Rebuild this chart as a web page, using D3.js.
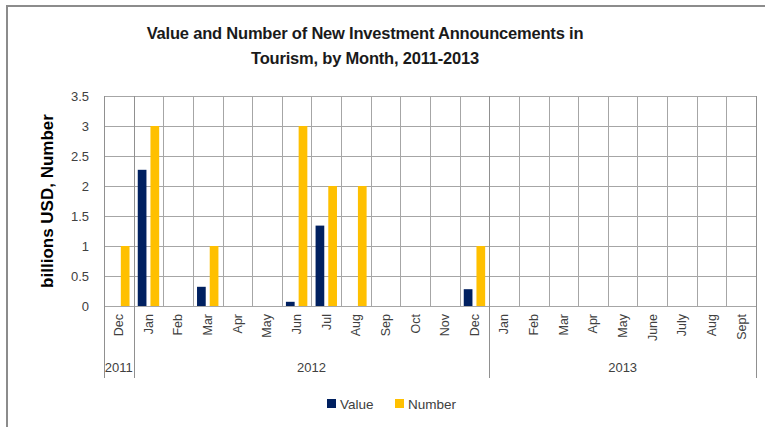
<!DOCTYPE html>
<html>
<head>
<meta charset="utf-8">
<script src="https://cdn.jsdelivr.net/npm/d3@7"></script>
<style>
  html, body { margin: 0; padding: 0; background: #fff; }
  svg { display: block; font-family: "Liberation Sans", Arial, sans-serif; }
</style>
</head>
<body>
<svg id="chart" width="765" height="427"></svg>
<script>
// Months on the category axis, with the year each belongs to
const months = ["Dec", "Jan", "Feb", "Mar", "Apr", "May", "Jun", "Jul", "Aug", "Sep", "Oct", "Nov", "Dec",
                "Jan", "Feb", "Mar", "Apr", "May", "June", "July", "Aug", "Sept"];
const years = ["2011", "2012", "2013"];
const yearSpans = [1, 12, 9];   // number of months under each year label

// Value of announcements (billions USD) and number of announcements
const valueSeries  = [0, 2.27, 0, 0.32, 0, 0, 0.07, 1.34, 0, 0, 0, 0, 0.28, 0, 0, 0, 0, 0, 0, 0, 0, 0];
const numberSeries = [1, 3, 0, 1, 0, 0, 3, 2, 2, 0, 0, 0, 1, 0, 0, 0, 0, 0, 0, 0, 0, 0];

const seriesNames = ["Value", "Number"];
const seriesColors = ["#002060", "#FFC000"];
const yTicks = [0, 0.5, 1, 1.5, 2, 2.5, 3, 3.5];

const svg = d3.select("#chart");
const plot = { left: 104, right: 756, top: 96, bottom: 306 };
const axisBottom = 378;
const gridColor = "#a6a6a6";
const textColor = "#404040";

// Outer frame
svg.append("rect")
  .attr("x", 7).attr("y", 6).attr("width", 800).attr("height", 460)
  .attr("fill", "none").attr("stroke", "#8c8c8c").attr("stroke-width", 2);

const idx = d3.range(months.length);
const x = d3.scaleBand().domain(idx).range([plot.left, plot.right]).padding(0);
const xs = d3.scaleBand().domain(seriesNames).range([0, x.bandwidth()])
  .paddingInner(0.315).paddingOuter(0.324);
const y = d3.scaleLinear().domain([0, 3.5]).range([plot.bottom, plot.top]);

// Horizontal gridlines
svg.append("g").selectAll("line").data(yTicks).join("line")
  .attr("x1", plot.left).attr("x2", plot.right)
  .attr("y1", d => Math.round(y(d)) + 0.5).attr("y2", d => Math.round(y(d)) + 0.5)
  .attr("stroke", gridColor).attr("stroke-width", 1);

// Vertical gridlines at month boundaries; year boundaries run down through the label rows
const yearStarts = [0];
yearSpans.forEach((s, i) => yearStarts.push(yearStarts[i] + s));
const boundaries = d3.range(months.length + 1);
svg.append("g").selectAll("line").data(boundaries).join("line")
  .attr("x1", d => Math.round(plot.left + d * x.step()) + 0.5)
  .attr("x2", d => Math.round(plot.left + d * x.step()) + 0.5)
  .attr("y1", plot.top)
  .attr("y2", d => yearStarts.includes(d) ? axisBottom : plot.bottom)
  .attr("stroke", d => yearStarts.includes(d) ? "#909090" : gridColor)
  .attr("stroke-width", 1);

// Bars
const rows = idx.map(i => ({ i, vals: [valueSeries[i], numberSeries[i]] }));
const groups = svg.append("g").selectAll("g").data(rows).join("g")
  .attr("transform", d => `translate(${x(d.i)},0)`);
groups.selectAll("rect")
  .data(d => d.vals.map((v, k) => ({ name: seriesNames[k], v, k })).filter(e => e.v > 0))
  .join("rect")
  .attr("x", e => xs(e.name))
  .attr("width", xs.bandwidth())
  .attr("y", e => y(e.v))
  .attr("height", e => y(0) - y(e.v))
  .attr("fill", e => seriesColors[e.k]);

// Y axis tick labels
const yAxis = d3.axisLeft(y).tickValues(yTicks).tickSize(0).tickPadding(0)
  .tickFormat(d3.format(""));
const yg = svg.append("g").attr("transform", `translate(${plot.left - 15},0)`).call(yAxis);
yg.select(".domain").remove();
yg.selectAll("text").attr("font-size", 13).attr("fill", textColor)
  .attr("font-family", "Liberation Sans, Arial, sans-serif");

// Month labels (rotated)
const xAxis = d3.axisBottom(x).tickSize(0).tickPadding(0).tickFormat(i => months[i]);
const xg = svg.append("g").attr("transform", `translate(0,${plot.bottom})`).call(xAxis);
xg.select(".domain").remove();
xg.selectAll("text")
  .attr("transform", "rotate(-90)")
  .attr("x", -8).attr("y", 0).attr("dy", "0.35em")
  .attr("text-anchor", "end")
  .attr("font-size", 12.5).attr("fill", textColor)
  .attr("font-family", "Liberation Sans, Arial, sans-serif");

// Year labels
svg.append("g").selectAll("text").data(years).join("text")
  .attr("x", (d, k) => plot.left + (yearStarts[k] + yearSpans[k] / 2) * x.step())
  .attr("y", 372)
  .attr("text-anchor", "middle")
  .attr("font-size", 13).attr("fill", textColor)
  .text(d => d);

// Title
const titleLines = ["Value and Number of New Investment Announcements in", "Tourism, by Month, 2011-2013"];
svg.append("g").selectAll("text").data(titleLines).join("text")
  .attr("x", 365).attr("y", (d, k) => 39 + k * 25)
  .attr("text-anchor", "middle")
  .attr("font-size", 16.5).attr("font-weight", "bold").attr("fill", "#1a1a1a")
  .attr("letter-spacing", "-0.2")
  .text(d => d);

// Y axis title
svg.append("text")
  .attr("transform", "translate(53,201) rotate(-90)")
  .attr("text-anchor", "middle")
  .attr("font-size", 17).attr("font-weight", "bold").attr("fill", "#000")
  .text("billions USD, Number");

// Legend
const legendX = [327, 395];
const lg = svg.append("g").selectAll("g").data(seriesNames).join("g")
  .attr("transform", (d, k) => `translate(${legendX[k]},399)`);
lg.append("rect").attr("width", 9).attr("height", 9).attr("fill", (d, k) => seriesColors[k]);
lg.append("text").attr("x", 13).attr("y", 9.5)
  .attr("font-size", 13.5).attr("fill", textColor).text(d => d);
</script>
</body>
</html>
